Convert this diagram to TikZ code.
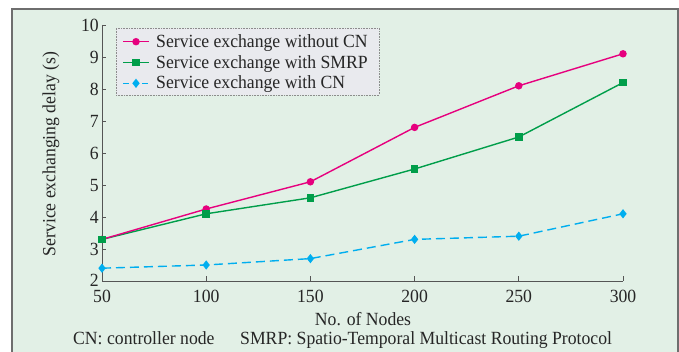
\documentclass[tikz,border=0pt]{standalone}
\usepackage{fontspec}
\setmainfont[FakeStretch=0.95]{Liberation Serif}
\usetikzlibrary{shapes.geometric}

\definecolor{panelbg}{RGB}{226,240,230}
\definecolor{panelrule}{RGB}{110,110,110}
\definecolor{axisgray}{RGB}{85,85,85}
\definecolor{legendbg}{RGB}{233,234,238}
\definecolor{legendrule}{RGB}{140,140,140}
\definecolor{pinkline}{RGB}{230,0,126}
\definecolor{greenline}{RGB}{0,158,74}
\definecolor{blueline}{RGB}{0,174,239}

\tikzset{
  lbl/.style={font=\fontsize{18.6}{21}\selectfont, inner sep=0pt, text=black!85},
  ylab/.style={lbl, text depth=0pt, anchor=east},
  xlab/.style={lbl, anchor=base},
  axisline/.style={draw=axisgray, line width=0.9pt},
  wocn/.style={draw=pinkline, line width=1.4pt, line join=round},
  smrp/.style={draw=greenline, line width=1.4pt, line join=round},
  withcn/.style={draw=blueline, line width=1.4pt, dash pattern=on 9pt off 5pt},
  dotmark/.style={circle, fill=pinkline, inner sep=0pt, minimum size=7.5pt},
  sqmark/.style={rectangle, fill=greenline, inner sep=0pt, minimum size=7.5pt},
  dmmark/.style={diamond, fill=blueline, inner sep=0pt, minimum width=7.5pt, minimum height=9.5pt},
}

\begin{document}
\begin{tikzpicture}[x=1pt, y=1pt]
  \useasboundingbox (0,0) rectangle (679,352);
  % panel
  \fill[white] (0,0) rectangle (679,352);
  \filldraw[fill=panelbg, draw=panelrule, line width=1.5pt] (12,-10) rectangle (678,343);

  % axis title and caption
  \node[lbl, rotate=90] (ytitle) at (51,198) {Service exchanging delay (s)};
  \node[xlab] (xtitle) at (363,26) {No. of Nodes};
  \node[lbl, anchor=base west] (cap1) at (73,7) {CN: controller node};
  \node[lbl, anchor=base west] (cap2) at (240,7) {SMRP: Spatio-Temporal Multicast Routing Protocol};

  % data area: x in nodes, y in seconds
  \begin{scope}[shift={(-2.2pt,7pt)}, x=2.084pt, y=32pt]
    \coordinate (O) at (50,2);
    \coordinate (Ytop) at (50,10);
    \coordinate (Xend) at (300,2);
    \draw[axisline] (Ytop) -- (O) -- (Xend);
    \foreach \v in {3,...,10} \draw[axisline] (50,\v) -- ++(4pt,0);
    \foreach \n in {100,150,...,300} \draw[axisline] (\n,2) -- ++(0,5pt);
    \foreach \v in {3,...,10} \node[ylab] (yt\v) at ([xshift=-3pt]50,\v) {\v};
    \node[ylab] (yt2) at ([xshift=-3pt,yshift=1pt]50,2) {2};
    \foreach \n in {50,100,...,300} \node[xlab] (xt\n) at ([yshift=-22pt]\n,2) {\n};

    % series coordinates
    \foreach \n/\v [count=\i] in {50/3.3,100/4.25,150/5.1,200/6.8,250/8.1,300/9.1}
      \coordinate (a\i) at (\n,\v);
    \foreach \n/\v [count=\i] in {50/3.3,100/4.1,150/4.6,200/5.5,250/6.5,300/8.2}
      \coordinate (b\i) at (\n,\v);
    \foreach \n/\v [count=\i] in {50/2.4,100/2.5,150/2.7,200/3.3,250/3.4,300/4.1}
      \coordinate (c\i) at (\n,\v);

    \draw[withcn] (c1) -- (c2) -- (c3) -- (c4) -- (c5) -- (c6);
    \draw[smrp] (b1) -- (b2) -- (b3) -- (b4) -- (b5) -- (b6);
    \draw[wocn] (a1) -- (a2) -- (a3) -- (a4) -- (a5) -- (a6);

    \foreach \i in {1,...,6} \node[dmmark] (cm\i) at (c\i) {};
    \foreach \i in {1,...,6} \node[dotmark] (am\i) at (a\i) {};
    \foreach \i in {1,...,6} \node[sqmark] (bm\i) at (b\i) {};
  \end{scope}

  % legend
  \node[draw=legendrule, fill=legendbg, densely dotted, line width=0.6pt,
        minimum width=263pt, minimum height=66.7pt, inner sep=0pt] (legend) at (247.5,290.35) {};
  \foreach \r/\yy in {1/310.3,2/289.3,3/268.7} {
    \coordinate (l\r a) at (123,\yy);
    \coordinate (l\r b) at (149,\yy);
    \coordinate (l\r m) at (136,\yy);
  }
  \draw[wocn] (l1a) -- (l1b);
  \node[dotmark] (lm1) at (l1m) {};
  \draw[smrp] (l2a) -- (l2b);
  \node[sqmark] (lm2) at (l2m) {};
  \draw[withcn, dash pattern=on 6pt off 3.5pt] (l3a) -- (l3b);
  \node[dmmark] (lm3) at (l3m) {};
  \node[lbl, anchor=base west] (lt1) at (156,304.7) {Service exchange without CN};
  \node[lbl, anchor=base west] (lt2) at (156,283.7) {Service exchange with SMRP};
  \node[lbl, anchor=base west] (lt3) at (156,263.1) {Service exchange with CN};
\end{tikzpicture}
\end{document}
